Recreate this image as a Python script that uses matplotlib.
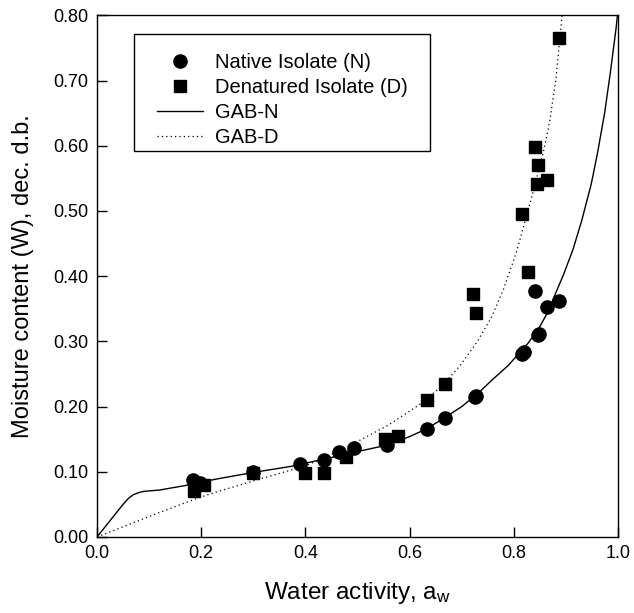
#Moisture sorption isotherms of native and denatured isolate with GAB fits.

import matplotlib
matplotlib.use("Agg")
import matplotlib.pyplot as plt
from matplotlib.patches import Rectangle

#Font settings (Arial-like).
matplotlib.rc('font', family='Liberation Sans', size=13)
matplotlib.rcParams['mathtext.fontset'] = 'custom'
matplotlib.rcParams['mathtext.rm'] = 'Liberation Sans'
matplotlib.rcParams['mathtext.it'] = 'Liberation Sans'

#Native isolate (N) data.
aw_N = [0.185, 0.197, 0.300, 0.390, 0.435, 0.464, 0.493, 0.557, 0.633, 0.667,
        0.725, 0.727, 0.816, 0.819, 0.846, 0.849, 0.840, 0.863, 0.886]
W_N = [0.087, 0.083, 0.100, 0.112, 0.118, 0.131, 0.136, 0.141, 0.166, 0.183,
       0.214, 0.216, 0.281, 0.284, 0.309, 0.312, 0.377, 0.352, 0.362]

#Denatured isolate (D) data.
aw_D = [0.187, 0.206, 0.300, 0.400, 0.435, 0.477, 0.553, 0.578, 0.634, 0.667,
        0.721, 0.727, 0.816, 0.827, 0.840, 0.846, 0.845, 0.863, 0.886]
W_D = [0.070, 0.080, 0.098, 0.098, 0.098, 0.123, 0.151, 0.155, 0.210, 0.234,
       0.372, 0.343, 0.496, 0.407, 0.598, 0.571, 0.541, 0.548, 0.765]

#GAB-N curve.
aw_gabN = [0.0, 0.02, 0.04, 0.05, 0.06, 0.07, 0.08, 0.09, 0.12, 0.17, 0.23,
           0.30, 0.37, 0.445, 0.50, 0.557, 0.60, 0.633, 0.667, 0.70, 0.732,
           0.757, 0.789, 0.827, 0.85, 0.865, 0.878, 0.895, 0.913, 0.93, 0.948,
           0.96, 0.974, 0.985, 0.996, 1.0]
W_gabN = [0.0, 0.020, 0.040, 0.050, 0.059, 0.065, 0.068, 0.070, 0.072, 0.079,
          0.089, 0.099, 0.108, 0.121, 0.131, 0.141, 0.154, 0.166, 0.183, 0.200,
          0.221, 0.240, 0.263, 0.297, 0.323, 0.345, 0.370, 0.402, 0.440, 0.485,
          0.540, 0.587, 0.650, 0.712, 0.780, 0.81]

#GAB-D curve.
aw_gabD = [0.0, 0.115, 0.191, 0.229, 0.30, 0.40, 0.45, 0.506, 0.56, 0.617,
           0.66, 0.697, 0.73, 0.757, 0.78, 0.805, 0.834, 0.856, 0.869, 0.881,
           0.892, 0.894]
W_gabD = [0.0, 0.036, 0.059, 0.069, 0.086, 0.109, 0.127, 0.149, 0.172, 0.202,
          0.230, 0.263, 0.300, 0.337, 0.380, 0.437, 0.521, 0.588, 0.639, 0.705,
          0.797, 0.81]

x_ticks = [0.0, 0.2, 0.4, 0.6, 0.8, 1.0]
y_ticks = [0.0, 0.1, 0.2, 0.3, 0.4, 0.5, 0.6, 0.7, 0.8]

fig = plt.figure(figsize=(6.34, 6.13), dpi=100)
ax = fig.add_axes([0.153, 0.124, 0.822, 0.851])

#Plotting data and fits.
ax.plot(aw_N, W_N, 'o', color='black', markersize=9.5, label='Native Isolate (N)')
ax.plot(aw_D, W_D, 's', color='black', markersize=9, label='Denatured Isolate (D)')
ax.plot(aw_gabN, W_gabN, '-', color='black', linewidth=1.0, label='GAB-N')
ax.plot(aw_gabD, W_gabD, linestyle=(0, (1, 2.5)), color='black', linewidth=0.9,
        label='GAB-D')

#Axes limits and ticks.
ax.set_xlim(0, 1.0)
ax.set_ylim(0, 0.8)
ax.set_xticks(x_ticks)
ax.set_yticks(y_ticks)
ax.set_xticklabels(['%.1f' % v for v in x_ticks])
ax.set_yticklabels(['%.2f' % v for v in y_ticks])
ax.tick_params(direction='in', length=7, width=1, labelsize=13, pad=6)
for s in ax.spines.values():
    s.set_linewidth(1.0)

#Axis labels.
ax.set_xlabel(r'Water activity, a$_{\rm w}$', fontsize=17.5, labelpad=13)
ax.set_ylabel('Moisture content (W), dec. d.b.', fontsize=17, labelpad=14)

#Legend with a square box.
ax.add_patch(Rectangle((0.071, 0.739), 0.568, 0.2246, transform=ax.transAxes,
                       fill=False, edgecolor='black', linewidth=1.0, zorder=5))
ax.legend(loc='upper left', bbox_to_anchor=(0.115, 0.9285), frameon=False,
          fontsize=14.5, handlelength=2.3, handletextpad=0.6, labelspacing=0.3,
          borderpad=0, borderaxespad=0)

plt.savefig('out.png', dpi=100)
